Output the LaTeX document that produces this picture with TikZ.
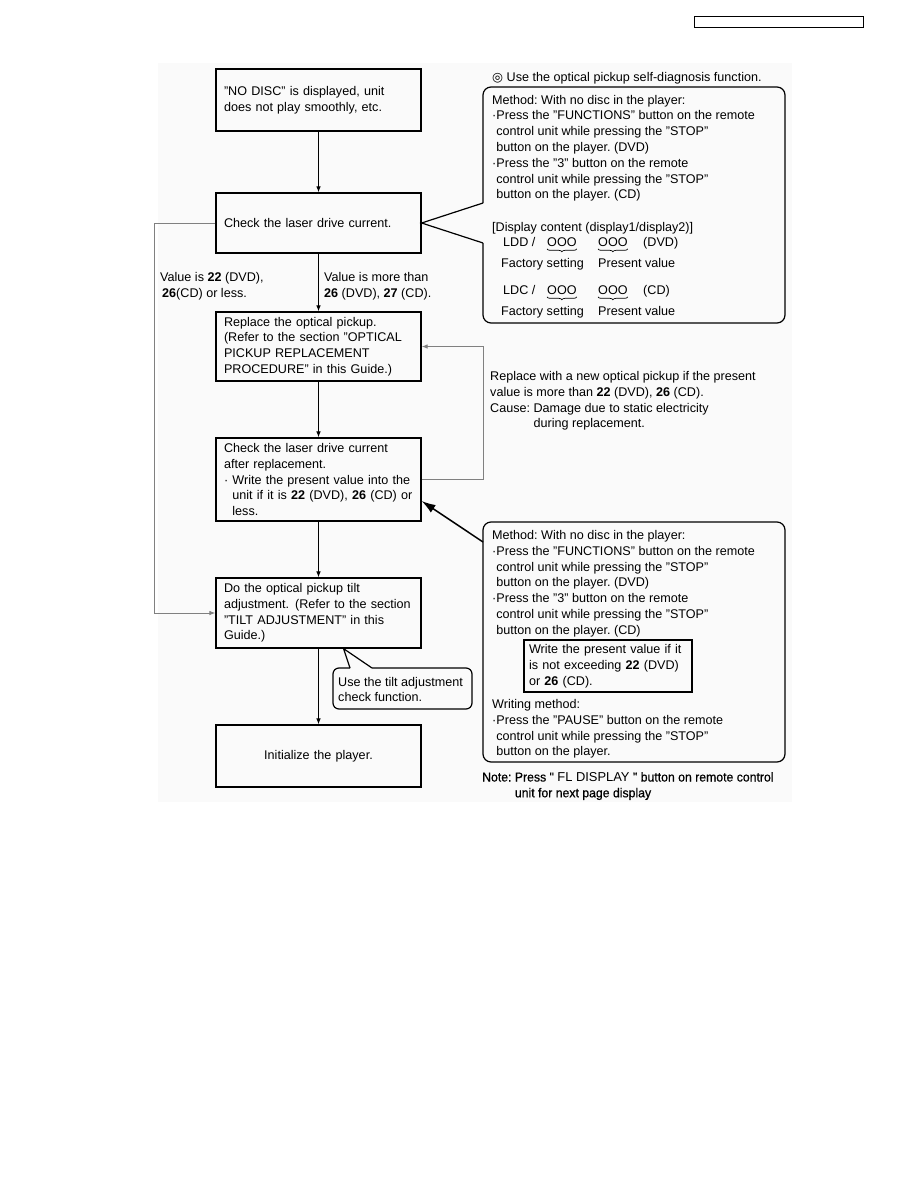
\documentclass[tikz,border=0pt]{standalone}
\usepackage{fontspec}
\setmainfont{Liberation Sans}
\newfontfamily\symfont{DejaVu Sans}
\newfontfamily\notefont[FakeStretch=0.95,FakeBold=0.5]{Liberation Sans}
\usetikzlibrary{arrows.meta,decorations.pathreplacing}
\frenchspacing

\tikzset{
  txt/.style={anchor=base west, inner sep=0pt, align=left,
    font=\fontsize{12.6}{15.8}\selectfont},
  box/.style={draw, line width=1.2pt, text width=189pt, inner xsep=8pt,
    align=left, font=\fontsize{12.6}{15.8}\selectfont},
  flow/.style={line width=0.9pt, -{Latex[length=6pt,width=4.5pt]}},
  back/.style={flow, draw=gray},
  callout/.style={line width=1.2pt, rounded corners=8pt},
  bigarrow/.style={line width=1.5pt, -{Latex[length=14pt,width=9pt]}},
  brace/.style={decorate, decoration={brace, mirror, amplitude=3pt}, line width=0.7pt}
}

\begin{document}
\begin{tikzpicture}[x=1pt, y=-1pt]
  \useasboundingbox (0,0) rectangle (918,1188);
  \fill[black!2] (158,63) rectangle (792,802);
  \draw[line width=1pt] (694,17) rectangle (863,28);

  % flow chart
  \node[box, minimum height=62pt] (nodisc) at (318.5,100)
    {"NO DISC" is displayed, unit\\ does not play smoothly, etc.};
  \node[box, minimum height=60pt] (check) at (318.5,223)
    {Check the laser drive current.};
  \node[box, minimum height=69pt] (replace) at (318.5,346.5)
    {Replace the optical pickup.\\ (Refer to the section "OPTICAL\\
     PICKUP REPLACEMENT\\ PROCEDURE" in this Guide.)};
  \node[box, minimum height=83pt] (recheck) at (318.5,479.5)
    {Check the laser drive current\\ after replacement.\\
     · Write the present value into the\\
     \hphantom{· }unit if it is \textbf{22} (DVD), \textbf{26} (CD) or\\
     \hphantom{· }less.};
  \node[box, minimum height=70pt] (tilt) at (318.5,613)
    {Do the optical pickup tilt\\ adjustment.\hspace{6pt}(Refer to the section\\
     "TILT ADJUSTMENT" in this\\ Guide.)};
  \node[box, minimum height=62pt, align=center] (init) at (318.5,756)
    {Initialize the player.};

  \draw[flow] (nodisc) -- (check);
  \draw[flow] (check) -- (replace);
  \draw[flow] (replace) -- (recheck);
  \draw[flow] (recheck) -- (tilt);
  \draw[flow] (tilt) -- (init);
  \draw[back] (check.west) -- ++(-61,0) |- (tilt.west);
  \draw[back] (recheck.east) -- ++(62,0) |- (replace.east);

  \node[txt] (less) at (160,297.3)
    {Value is \textbf{22} (DVD),\\ \hspace*{2pt}\textbf{26}(CD) or less.};
  \node[txt] (more) at (324,297.3)
    {Value is more than\\ \textbf{26} (DVD), \textbf{27} (CD).};

  % self-diagnosis callout
  \node[txt] (selfdiag) at (492,81.5)
    {{\symfont ◎} Use the optical pickup self-diagnosis function.};
  \coordinate (c1a) at (483,203);
  \coordinate (c1b) at (483,243);
  \draw[callout] (c1b) -- (483,323) -- (785,323) -- (785,87) -- (483,87) -- (c1a);
  \draw[line width=1.2pt] (c1a) -- (check.east) -- (c1b);
  \node[txt] (method) at (492,198.8)
    {Method: With no disc in the player:\\
     ·Press the "FUNCTIONS" button on the remote\\
     \hphantom{·}control unit while pressing the "STOP"\\
     \hphantom{·}button on the player. (DVD)\\
     ·Press the "3" button on the remote\\
     \hphantom{·}control unit while pressing the "STOP"\\
     \hphantom{·}button on the player. (CD)};
  \node[txt] (display) at (492,231.5) {[Display content (display1/display2)]};
  \foreach \dev/\mode/\y in {LDD/DVD/246.5, LDC/CD/294.5}{
    \node[txt] (\dev) at (503,\y) {\dev\ /};
    \node[txt] (\dev-f) at (547,\y) {OOO};
    \node[txt] (\dev-p) at (598,\y) {OOO};
    \node[txt] (\dev-m) at (643,\y) {(\mode)};
    \draw[brace] ([yshift=-2pt]\dev-f.south west) -- ([yshift=-2pt]\dev-f.south east);
    \draw[brace] ([yshift=-2pt]\dev-p.south west) -- ([yshift=-2pt]\dev-p.south east);
    \node[txt] (\dev-fl) at (501,\y+21) {Factory setting};
    \node[txt] (\dev-pl) at (598,\y+21) {Present value};
  }

  \node[txt] (cause) at (490,427.9)
    {Replace with a new optical pickup if the present\\
     value is more than \textbf{22} (DVD), \textbf{26} (CD).\\
     Cause: Damage due to static electricity\\
     \hphantom{Cause: }during replacement.};

  % writing callout
  \coordinate (m2) at (483,542);
  \draw[callout] (483,522) rectangle (785,762);
  \draw[bigarrow] (m2) -- ([yshift=-21.5pt]recheck.east);
  \node[txt] (method2) at (492,634.3)
    {Method: With no disc in the player:\\
     ·Press the "FUNCTIONS" button on the remote\\
     \hphantom{·}control unit while pressing the "STOP"\\
     \hphantom{·}button on the player. (DVD)\\
     ·Press the "3" button on the remote\\
     \hphantom{·}control unit while pressing the "STOP"\\
     \hphantom{·}button on the player. (CD)};
  \node[draw, line width=1.2pt, minimum width=168pt, minimum height=52pt,
    text width=158pt, inner xsep=5pt, align=left,
    font=\fontsize{12.6}{15.8}\selectfont] (limit) at (608,666)
    {Write the present value if it\\ is not exceeding \textbf{22} (DVD)\\
     or \textbf{26} (CD).};
  \node[txt] (writing) at (492,755.9)
    {Writing method:\\
     ·Press the "PAUSE" button on the remote\\
     \hphantom{·}control unit while pressing the "STOP"\\
     \hphantom{·}button on the player.};
  \node[txt, font=\notefont\fontsize{12.9}{15.8}\selectfont] (note) at (482,797.3)
    {Note: Press " {\rmfamily FL DISPLAY} " button on remote control\\
     \hphantom{Note: }unit for next page display};

  % tilt check callout
  \coordinate (s1) at (350,668);
  \coordinate (s2) at (372,668);
  \draw[callout, rounded corners=6pt] (s2) -- (472,668) -- (472,709) -- (333,709) -- (333,668) -- (s1);
  \draw[line width=1.2pt] (s1) -- ([xshift=25pt]tilt.south) -- (s2);
  \node[txt] (tiltcheck) at (338,701.8) {Use the tilt adjustment\\ check function.};
\end{tikzpicture}
\end{document}
